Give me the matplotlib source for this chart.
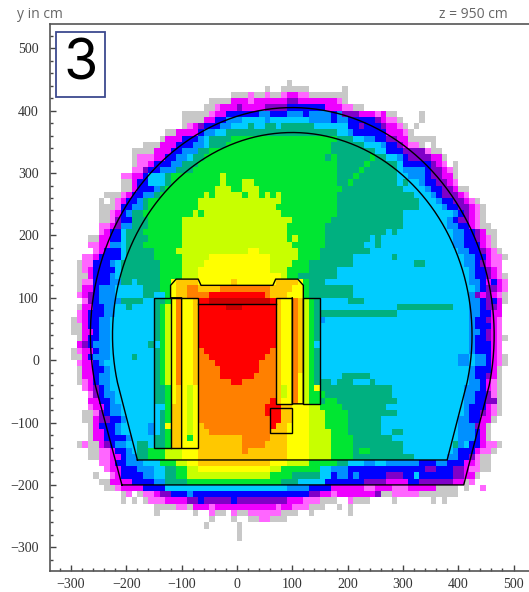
import numpy as np
import matplotlib
matplotlib.use("Agg")
import matplotlib.pyplot as plt
from matplotlib.colors import ListedColormap
from matplotlib.patches import Rectangle

# Level codes, low to high
level_codes = ".gmMPBbctGLYOoRD"
level_colors = ["#ffffff", "#c8c8c8", "#ff66ff", "#ee00ff", "#8000c8", "#0000ff", "#0090ff", "#00ccff",
                "#00b080", "#00e632", "#c8ff00", "#ffff00", "#ffc800", "#ff8000", "#ff0000", "#cc0000"]

# Bottom edge of each 10 cm row, top to bottom
row_y = list(range(440, -300, -10))

# Each row: level code + x where that level starts, "." closes a run
row_runs = [
    "g90 .100",
    "g50 .60 g80 .130 g190 .200",
    "g-10 m20 g30 m50 g60 m80 M90 m110 g130 .200",
    "g-50 M-10 m20 M30 P90 M110 m180 g190 .200",
    "g-60 m-40 M-30 P0 M10 P50 B90 M160 m190 g210 .230",
    "g-100 m-50 M-40 B-20 b40 B60 b90 B120 b130 B170 b180 P190 M220 m250 M260 g270 .290 g330 .340",
    "g-100 M-60 B-40 b-20 c10 b50 c60 b130 B170 b180 B200 P250 M260 m270 g290 .300 g330 .340",
    "g-100 m-90 M-80 P-70 B-60 b-30 c-10 t20 c30 t50 c70 t80 c140 B200 P220 B230 P260 M270 m290 g300 .310 g320 .330",
    "g-130 M-110 B-70 b-60 c-40 t-20 c180 b200 B210 M270 m300 g310 .320",
    "g-140 M-130 B-100 b-70 c-60 t-50 G-10 t180 c210 b230 B250 P270 M290 g310 .360",
    "g-170 M-140 B-110 b-80 c-60 t-50 G-20 t170 c230 b260 B270 P290 M300 m310 g330 .340 g350 .360",
    "g-190 M-150 B-120 b-100 t-70 G-50 t170 c250 B270 P300 m340 g350 .370",
    "g-190 m-180 M-150 B-130 b-110 c-90 t-80 G-60 t160 G170 t180 G240 t250 c270 b290 B300 P310 M350 g370 .380",
    "g-190 m-180 M-160 B-150 b-120 t-100 G-70 t180 G230 t240 c290 B300 P350 M360 m370 .380 g390 .400",
    "m-190 P-170 B-160 b-140 t-110 G-80 t180 G220 t230 c290 b300 B340 P350 M370 m380 g390 .400",
    "m-210 M-190 B-170 c-160 t-130 G-120 L-30 G-20 t180 G210 t220 c290 b310 B340 P350 M370 g390 .400",
    "g-210 M-190 B-180 c-160 t-130 G-120 L-30 G-20 L10 G30 t180 G200 t210 c290 t300 c310 b330 B340 P360 M380 m390 .400",
    "g-210 M-190 B-180 b-150 t-140 G-130 L-40 G-10 L10 G40 t190 c300 b340 B350 P370 M390 g400 .420",
    "g-240 m-210 M-200 B-190 b-170 t-150 G-140 L-60 G-50 L-40 G10 L20 G40 L50 G60 L70 G80 t180 c320 b350 B360 P370 M400 m410 .420",
    "g-250 .-240 g-230 m-220 M-210 B-200 b-180 t-170 G-160 L-70 G80 t180 c330 b360 B370 P390 M410 m420 g430 .440",
    "g-250 m-220 B-210 b-190 t-170 G-160 L-70 G70 t180 c330 b370 B380 P400 M420 m430 g440 .450",
    "g-250 m-230 M-220 B-210 b-200 t-190 G-170 L-80 G-70 L-60 G80 t180 c300 b390 B400 P410 M420 m430 g440 .450",
    "g-250 m-230 P-220 B-210 t-190 G-160 L-100 G100 t170 c300 b380 B390 P400 M420 m430 g440 .450",
    "m-250 M-230 P-220 b-210 t-190 G-160 L-100 G90 t160 c300 b380 B400 M420 m430 g440 .460",
    "m-250 M-240 B-230 c-210 t-200 G-170 L-100 G90 t160 c270 t280 c290 b390 B410 P430 M440 g450 .470",
    "g-270 M-250 B-230 c-210 t-200 G-160 L-100 G90 L100 G110 t160 c240 t250 c260 b390 B410 P430 M440 m450 g460 .470",
    "m-270 M-250 b-230 c-210 t-200 G-170 L-100 G100 t160 c230 t250 c260 b390 B410 M440 m450 g460 .470",
    "m-260 M-250 B-240 c-210 t-200 G-150 L-110 Y20 L40 G110 t150 c240 b400 B420 P440 M450 m460 g470 .480",
    "m-280 M-260 B-250 c-210 t-200 G-150 L-100 Y-50 L60 G110 t150 c210 t280 c290 b410 B430 M450 m460 g480 .490",
    "g-290 m-280 B-260 b-230 c-220 t-210 G-140 L-100 Y-60 L60 G100 t130 c210 t320 c340 b410 B430 P440 M450 m460 .480",
    "g-290 m-280 M-270 B-260 c-220 t-210 G-140 L-100 Y-70 L60 G90 t130 c180 b420 B430 P450 M460 m470 .480",
    "g-290 M-270 B-260 b-230 c-220 t-210 G-140 L-100 Y-70 L80 G90 t110 c180 b420 B430 P450 M460 m470 g480 .490",
    "g-290 m-280 B-260 b-230 t-210 c-190 t-180 G-140 Y-120 O-110 Y-70 O-10 Y0 O70 Y110 G120 t130 c160 b420 B440 M450 B460 M470 m480 .490",
    "g-290 M-280 B-260 b-250 c-220 t-170 G-140 Y-120 O-110 o-90 O-70 o-30 o50 O60 Y100 G120 t130 c210 b430 B440 P450 M470 m480 .490",
    "m-290 M-280 P-270 B-260 b-250 c-220 t-170 c-150 G-130 Y-120 O-110 o-90 R-50 o50 O60 Y90 G120 t130 c210 b420 P430 M440 P450 M460 m470 g480 .490",
    "m-280 P-270 B-260 b-250 t-210 c-170 t-150 G-130 Y-120 o-110 Y-100 O-80 R-70 D-50 R60 O70 Y80 o100 O110 L120 G130 t140 c150 t200 c230 b420 B440 P450 B460 M470 g480 .490",
    "g-290 M-280 B-260 b-240 c-220 t-200 c-190 t-150 G-140 L-130 Y-120 o-110 Y-100 O-80 R-70 D-20 R10 O70 Y80 o100 O110 L120 G130 t140 c150 t290 c390 b420 B440 P450 M470 .480",
    "m-290 M-280 B-270 b-240 c-220 t-150 G-140 L-130 Y-120 o-110 Y-100 O-80 R-70 O70 Y80 o100 O110 L120 G130 t140 c290 b420 B440 M460 .480",
    "g-300 m-290 M-280 B-270 b-250 c-230 t-150 G-140 L-130 Y-120 o-110 Y-100 O-80 R-70 O70 Y80 o100 O110 L120 G130 t140 b150 c160 b420 B430 P450 M460 m470 .480",
    "g-300 M-280 B-270 b-250 c-230 t-150 G-140 L-130 Y-120 o-110 Y-100 O-80 R-70 O70 Y80 o100 O110 L120 G130 t140 c150 b420 B430 M460 m470 .480",
    "g-300 M-280 B-260 b-250 c-230 t-150 G-140 L-130 Y-120 o-110 Y-100 O-80 R-70 O70 Y80 o100 O110 L120 G130 t140 c150 b420 B440 P450 M460 m470 .480",
    "g-290 M-280 B-270 b-250 c-230 t-150 G-140 L-130 Y-120 o-110 Y-100 O-80 R-70 O70 Y80 o100 O110 L120 G130 t140 c150 b420 B430 P450 M460 m470 g480 .490",
    "M-290 P-280 B-270 b-260 c-230 t-160 c-150 G-140 L-130 Y-120 o-110 Y-100 O-80 R-70 O70 Y80 o100 O110 L120 G130 c140 b420 B430 M460 m470 .480",
    "g-300 m-290 M-280 B-260 b-250 c-230 t-150 G-140 L-130 Y-120 o-110 Y-100 O-80 o-70 R-60 o60 O70 Y80 o100 O110 L120 G130 t140 c150 b420 B430 M460 m470 .480",
    "g-300 M-280 B-270 b-260 c-230 t-190 c-180 t-150 G-140 L-130 Y-120 o-110 Y-100 O-80 o-70 R-50 o50 O70 Y80 o100 O110 L120 G130 t140 c150 b400 c420 b430 B450 M460 m470 g480 .490",
    "m-290 M-280 B-260 b-250 c-240 t-150 G-140 L-130 Y-120 o-110 Y-100 O-80 o-70 R-40 o40 O70 Y80 o100 O110 L120 G130 t140 c150 b400 c420 b430 B450 M460 m470 g480 .490",
    "g-290 M-280 B-260 b-240 c-230 t-150 G-140 L-130 Y-120 o-110 Y-100 O-80 o-70 R-30 o40 O70 Y80 o100 O110 L120 G130 t140 c150 b420 B430 M460 g470 .480",
    "g-290 M-280 B-260 b-250 c-230 t-150 G-140 L-130 Y-120 o-110 Y-100 O-80 o-70 R-30 o30 O70 Y80 o100 Y110 L120 G130 t140 c150 t190 c240 b420 B430 P450 M460 g470 .480",
    "g-290 m-280 M-270 B-260 b-250 c-230 t-150 G-140 L-130 Y-120 o-110 Y-100 O-80 o-70 R-10 o10 O70 Y80 o100 Y110 L120 G130 t140 c170 t180 c210 t240 c250 b420 B440 M450 m460 g470 .480",
    "m-280 M-270 P-260 B-250 b-240 c-230 t-150 G-130 Y-120 O-110 Y-100 L-90 Y-80 o-70 O70 L80 Y90 o100 Y110 L120 G130 Y140 t150 c280 b410 B440 M450 m460 g470 .480",
    "m-270 P-260 B-250 b-240 c-220 t-150 G-130 Y-120 O-110 Y-100 L-90 Y-80 o-70 O70 L80 Y90 o100 Y110 L120 G130 t160 c280 b410 B430 P450 m460 g470 .480",
    "M-270 B-250 b-230 c-220 t-150 G-130 Y-120 O-110 Y-100 L-90 Y-80 o-70 R60 o70 O70 Y80 o100 Y110 L120 G130 t150 G160 t180 c290 b410 B430 P450 g470 .480",
    "m-270 M-260 B-240 b-230 c-210 G-130 O-120 Y-100 L-90 Y-80 o-70 R50 O80 Y100 L130 G150 t190 c270 b410 B420 M450 m460 g470 .480",
    "g-280 m-260 P-250 B-240 b-230 c-210 t-140 G-130 O-120 Y-100 L-90 Y-80 o-70 R50 O80 Y100 L130 G160 t200 c290 b410 B420 P440 M450 m460 g470 .480",
    "g-280 M-260 P-250 B-230 b-210 c-200 t-140 G-130 O-120 Y-100 L-90 Y-80 o-70 R60 O80 Y100 L130 G160 t200 c260 b400 B420 M440 g460 .470",
    "g-270 M-260 B-250 b-220 c-210 b-160 c-150 t-140 Y-130 O-120 Y-100 L-90 Y-80 O-70 o-60 R60 O70 Y90 L130 G160 t200 c260 b400 P430 M440 g450 .460",
    "g-270 M-260 B-240 b-220 c-210 b-160 c-150 t-140 G-130 O-120 Y-100 L-90 Y-80 O-70 o-50 O60 Y90 L130 G170 t200 c260 t280 c300 b400 B430 M440 g450 .460",
    "g-270 M-260 B-240 b-200 c-190 t-150 G-130 O-120 Y-100 G-90 Y-80 O-70 o10 O60 Y90 L130 G170 t210 c280 b400 B430 M440 g450 .460",
    "g-290 m-280 g-270 M-250 P-240 B-230 b-220 c-200 t-180 c-160 t-150 G-130 O-120 Y-100 O-70 o10 O50 Y90 L130 G170 t210 c300 t390 b400 c410 B420 M440 m450 g470 .480",
    "g-270 m-250 M-230 B-220 b-200 c-190 t-180 G-160 L-130 Y-100 O-70 o10 O20 Y90 L130 G170 t210 G220 t240 c300 b390 B400 M430 m440 g460 .470",
    "g-270 m-250 M-230 B-210 b-200 t-180 G-160 L-130 Y-100 O-70 Y90 L130 G170 t210 c320 b380 B400 P420 m430 g440 .460",
    "m-250 M-230 B-220 b-200 c-170 G-140 L-110 Y-90 O-70 Y60 L90 G130 t180 c200 b230 c250 b270 B330 b360 B380 M410 m430 g440 .460",
    "m-240 M-230 B-210 b-180 c-150 t-130 G-110 L-90 Y-70 L60 G80 c150 b170 B200 P340 B360 P390 M410 m420 g440 .460",
    "g-260 .-250 m-230 M-220 B-210 b-170 c-150 t-130 G-110 L-90 G60 t100 c150 B170 b180 B200 b210 B220 P270 B300 c320 B330 P390 M410 g430 .440",
    "g-250 M-230 B-190 b-150 t-130 G-90 t80 c110 B160 P230 M270 B310 P330 M390 g410 m420 .430",
    "g-240 m-220 M-210 B-170 c-130 b90 B130 M170 m230 M250 m280 M310 g360 .400 g410 .420 m440 .450",
    "g-210 m-200 .-190 g-180 m-170 M-150 P-140 B-120 b-90 B-80 P130 M150 m170 M180 P250 g260 m280 g330 .400",
    "g-210 .-200 g-190 .-180 g-170 m-160 M-130 P-90 B-70 P-60 B-10 P0 M90 m120 g150 .180 m200 g210 .240 g280 .290 g350 .360 g370 .380",
    "g-150 m-110 g-90 M-80 m-50 M-40 m70 M80 m100 g130 .160 g180 .190 g200 .210",
    "g-150 .-140 g-80 .-70 m-50 g-40 .-20 m-10 g0 m20 g80 .110 g130 .140 g200 .210",
    "g-50 .-40 g-10 .0 g20 m40 g60 .90",
    "g-60 .-50 g0 .10",
    "g0 .10",
    "g0 .10",
]

x_edges = np.arange(-300, 500, 10)
y_ticks = [-300, -200, -100, 0, 100, 200, 300, 400, 500]
x_ticks = [-300, -200, -100, 0, 100, 200, 300, 400, 500]

# Turn the runs into a grid
grid = np.zeros((len(row_y), len(x_edges) - 1), dtype=int)
for i, runs in enumerate(row_runs):
    tokens = runs.split()
    for j in range(len(tokens) - 1):
        lev = level_codes.index(tokens[j][0])
        x0 = int(tokens[j][1:])
        x1 = int(tokens[j + 1][1:])
        grid[i, (x0 + 300) // 10:(x1 + 300) // 10] = lev

fig = plt.figure(figsize=(5.29, 5.92), dpi=100)
ax = fig.add_axes([50 / 529, 21 / 592, 479 / 529, 547 / 592])

y_edges = np.arange(row_y[-1], row_y[0] + 20, 10)
cmap = ListedColormap(level_colors)
masked = np.ma.masked_equal(grid[::-1], 0)
ax.pcolormesh(x_edges, y_edges, masked, cmap=cmap, vmin=-0.5, vmax=len(level_colors) - 0.5)

ax.set_xlim(-338, 528)
ax.set_ylim(-338, 539)

# Tunnel outlines
t1 = np.radians(np.linspace(-12.7, 192.7, 200))
ax.plot(np.r_[-208, 100 + 365 * np.cos(t1[::-1]), 410, -208],
        np.r_[-200, 40 + 365 * np.sin(t1[::-1]), -200, -200], color="k", lw=1)
t2 = np.radians(np.linspace(-13.5, 193.5, 200))
ax.plot(np.r_[-180, 100 + 325 * np.cos(t2[::-1]), 380, -180],
        np.r_[-160, 40 + 325 * np.sin(t2[::-1]), -160, -160], color="k", lw=1)

# Detector frames
ax.plot([-100, -100, -120, -120, -110, -70, -65, 65, 70, 110, 120, 120, 100, 100],
        [-140, 100, 100, 120, 130, 130, 120, 120, 130, 130, 120, -70, -70, 100], color="k", lw=1)
ax.plot([-120, -120], [100, -140], color="k", lw=1)
ax.add_patch(Rectangle((-150, -140), 80, 240, fill=False, ec="k", lw=1))
ax.plot([-70, 70], [90, 90], color="k", lw=1)
ax.add_patch(Rectangle((70, -70), 30, 170, fill=False, ec="k", lw=1))
ax.add_patch(Rectangle((120, -70), 30, 170, fill=False, ec="k", lw=1))
ax.add_patch(Rectangle((60, -116), 40, 40, fill=False, ec="k", lw=1))

# Axes styling
ax.spines["right"].set_visible(False)
for s in ["left", "bottom", "top"]:
    ax.spines[s].set_color("#555555")
    ax.spines[s].set_linewidth(1.2)
ax.set_xticks(x_ticks)
ax.set_yticks(y_ticks)
ax.set_xticks(np.arange(-320, 520, 20), minor=True)
ax.set_yticks(np.arange(-320, 540, 20), minor=True)
ax.tick_params(which="major", direction="in", length=4, width=1, color="#444444", labelsize=10,
               labelcolor="#333333", pad=5)
ax.tick_params(axis="y", which="major", pad=8)
ax.tick_params(which="minor", direction="in", length=2, width=1, color="#444444")
for lab in ax.get_xticklabels() + ax.get_yticklabels():
    lab.set_family("Liberation Serif")

fig.text(17 / 529, 1 - 15 / 592, "y in cm", color="#666666", fontsize=10, va="center", family="Open Sans")
fig.text(508 / 529, 1 - 14 / 592, "z = 950 cm", color="#666666", fontsize=10, va="center", ha="right", family="Open Sans")

# Panel number box
ax.add_patch(plt.Rectangle((56 / 529, 1 - 97 / 592), 49 / 529, 65 / 592, transform=fig.transFigure, clip_on=False,
                           fc="white", ec="#3d4a8f", lw=1.3, zorder=5))
fig.text(81 / 529, 1 - 65 / 592, "3", color="black", fontsize=40, ha="center", va="center", family="Inter",
         zorder=6)

fig.savefig("out.png", dpi=100)
